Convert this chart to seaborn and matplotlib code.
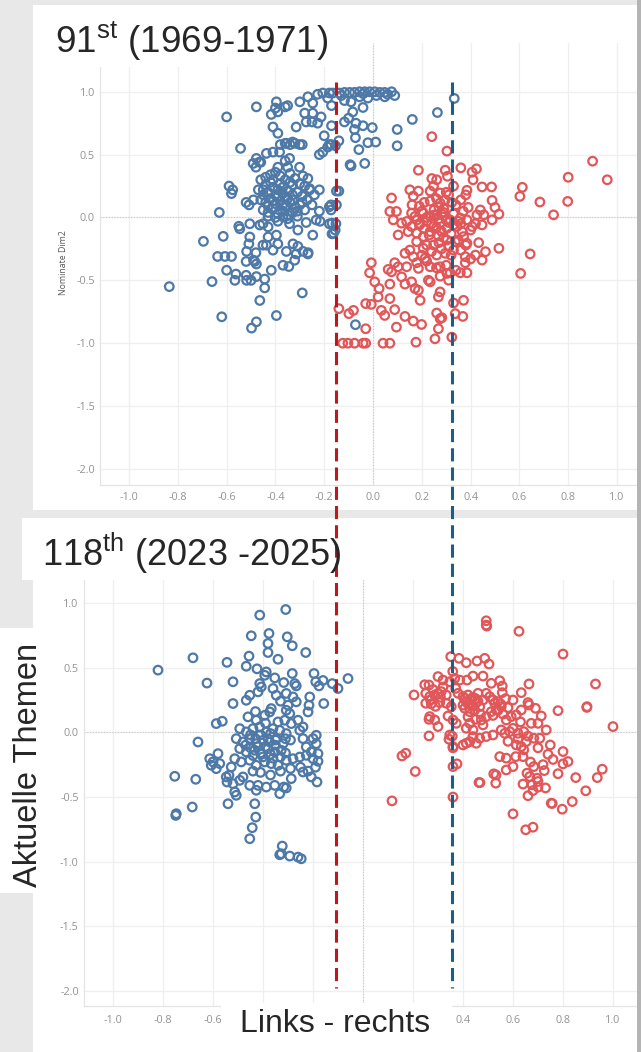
import matplotlib
matplotlib.use("Agg")
import matplotlib.pyplot as plt
from matplotlib.patches import Rectangle
from matplotlib.lines import Line2D
import pandas as pd
import seaborn as sns

# ---------------------------------------------------------------- data
# DW-NOMINATE scores (dim1 = left/right, dim2 = second dimension)
dem_91 = [
    (-0.835, -0.55), (-0.66, -0.51), (-0.695, -0.19), (-0.614, -0.15), (-0.63, 0.04), (-0.59, 0.25),
    (-0.575, 0.22), (-0.58, 0.19), (-0.637, -0.31), (-0.607, -0.31), (-0.58, -0.31), (-0.60, -0.42),
    (-0.562, -0.45), (-0.566, -0.50), (-0.62, -0.79), (-0.498, -0.88), (-0.478, -0.83), (-0.464, -0.66),
    (-0.396, -0.78), (-0.29, -0.60), (-0.444, -0.56), (-0.444, -0.49), (-0.52, -0.46), (-0.50, -0.50),
    (-0.518, -0.50), (-0.478, -0.47), (-0.417, -0.42), (-0.369, -0.38), (-0.345, -0.39), (-0.321, -0.34),
    (-0.315, -0.29), (-0.287, -0.27), (-0.267, -0.29), (-0.52, -0.35), (-0.485, -0.35), (-0.478, -0.37),
    (-0.49, -0.34), (-0.60, 0.80), (-0.478, 0.88), (-0.543, 0.55), (-0.518, -0.27), (-0.48, -0.28),
    (-0.451, -0.22), (-0.437, -0.22), (-0.41, -0.26), (-0.39, -0.21), (-0.355, -0.27), (-0.328, -0.21),
    (-0.308, -0.23), (-0.505, -0.155), (-0.509, -0.21), (-0.43, -0.155), (-0.396, -0.14), (-0.43, -0.075),
    (-0.464, -0.06), (-0.451, -0.05), (-0.40, 0.0), (-0.369, 0.005), (-0.342, -0.05), (-0.308, -0.10),
    (-0.274, -0.04), (-0.247, -0.14), (-0.233, -0.02), (-0.217, -0.03), (-0.179, -0.05), (-0.168, -0.13),
    (-0.179, 0.085), (-0.172, 0.06), (-0.55, -0.07), (-0.546, -0.09), (-0.505, -0.05),
    (-0.46, 0.30), (-0.44, 0.32), (-0.42, 0.34), (-0.40, 0.36), (-0.38, 0.33), (-0.36, 0.30), (-0.34, 0.28),
    (-0.32, 0.31), (-0.30, 0.27), (-0.28, 0.25), (-0.45, 0.22), (-0.43, 0.20), (-0.41, 0.24), (-0.39, 0.22),
    (-0.37, 0.19), (-0.35, 0.21), (-0.33, 0.18), (-0.31, 0.20), (-0.29, 0.17), (-0.27, 0.14), (-0.46, 0.14),
    (-0.44, 0.12), (-0.42, 0.15), (-0.40, 0.11), (-0.38, 0.13), (-0.36, 0.09), (-0.34, 0.12), (-0.32, 0.08),
    (-0.30, 0.10), (-0.28, 0.06), (-0.45, 0.06), (-0.43, 0.04), (-0.41, 0.07), (-0.39, 0.03), (-0.37, 0.05),
    (-0.35, 0.02), (-0.33, 0.04), (-0.31, 0.01), (-0.42, 0.28), (-0.38, 0.27), (-0.36, 0.16), (-0.40, 0.18),
    (-0.44, 0.26), (-0.34, 0.35), (-0.26, 0.22), (-0.24, 0.18), (-0.25, 0.10), (-0.22, 0.05), (-0.39, 0.40),
    (-0.35, 0.40), (-0.52, 0.12), (-0.508, 0.10), (-0.49, 0.14), (-0.47, 0.22), (-0.48, 0.40), (-0.466, 0.44),
    (-0.491, 0.43), (-0.478, 0.47), (-0.46, 0.44), (-0.437, 0.51), (-0.41, 0.52), (-0.383, 0.52), (-0.36, 0.45),
    (-0.342, 0.47), (-0.301, 0.40), (-0.287, 0.33), (-0.267, 0.31), (-0.26, 0.23), (-0.22, 0.22), (-0.15, 0.21),
    (-0.172, 0.58), (-0.186, 0.56), (-0.206, 0.52), (-0.22, 0.50), (-0.38, 0.58), (-0.36, 0.59), (-0.32, 0.59),
    (-0.30, 0.58), (-0.34, 0.58), (-0.315, 0.72), (-0.28, 0.83), (-0.247, 0.83), (-0.274, 0.76), (-0.25, 0.76),
    (-0.213, 0.80), (-0.227, 0.75), (-0.20, 0.65), (-0.179, 0.58), (-0.41, 0.72), (-0.39, 0.67), (-0.355, 0.59),
    (-0.33, 0.60), (-0.29, 0.58), (-0.396, 0.92), (-0.40, 0.87), (-0.417, 0.82), (-0.39, 0.84), (-0.36, 0.88),
    (-0.35, 0.89), (-0.30, 0.92), (-0.267, 0.96), (-0.247, 0.91), (-0.227, 0.98), (-0.206, 0.99), (-0.186, 0.95),
    (-0.179, 0.99), (-0.165, 0.99), (-0.138, 0.99), (-0.117, 0.995), (-0.096, 0.995), (-0.076, 0.995),
    (-0.055, 1.0), (-0.034, 1.0), (-0.014, 1.0), (0.007, 1.0), (0.028, 0.995), (0.048, 0.995), (0.076, 1.0),
    (0.089, 0.97), (-0.117, 0.93), (-0.09, 0.92), (-0.055, 0.96), (-0.021, 0.95), (0.014, 0.97), (0.048, 0.96),
    (-0.13, 0.97), (0.06, 0.98), (-0.04, 0.985), (0.333, 0.947), (0.264, 0.835), (0.161, 0.78), (0.099, 0.70),
    (0.099, 0.57), (-0.003, 0.715), (-0.041, 0.875), (-0.083, 0.84), (-0.10, 0.79), (-0.117, 0.76), (-0.07, 0.75),
    (-0.076, 0.70), (-0.041, 0.73), (-0.072, 0.635), (-0.021, 0.595), (0.011, 0.60), (-0.058, 0.54), (-0.14, 0.61),
    (-0.154, 0.57), (-0.094, 0.42), (-0.09, 0.41), (-0.034, 0.43), (-0.14, 0.21), (-0.172, 0.10), (-0.168, -0.045),
    (-0.162, -0.125), (-0.072, -0.853), (-0.17, 0.89), (-0.17, 0.73), (-0.15, 0.10), (-0.155, -0.10),
    (-0.152, -0.05), (-0.266, -0.28), (-0.43, 0.09), (-0.41, 0.13), (-0.37, 0.10), (-0.35, 0.15), (-0.39, 0.17),
    (-0.33, 0.14), (-0.45, 0.18), (-0.37, 0.24), (-0.33, 0.26), (-0.41, 0.30), (-0.43, 0.01), (-0.39, -0.03),
    (-0.35, -0.01), (-0.31, 0.05), (-0.29, 0.12),
]

rep_91 = [
    (0.241, 0.643), (0.303, 0.528), (0.186, 0.376), (0.296, 0.376), (0.305, 0.328), (0.36, 0.395), (0.406, 0.36),
    (0.424, 0.387), (0.41, 0.30), (0.241, 0.31), (0.261, 0.30), (0.248, 0.25), (0.33, 0.25), (0.385, 0.216),
    (0.447, 0.243), (0.486, 0.243), (0.151, 0.22), (0.186, 0.21), (0.165, 0.17), (0.234, 0.21), (0.275, 0.195),
    (0.31, 0.18), (0.076, 0.155), (0.19, 0.09), (0.234, 0.13), (0.275, 0.115), (0.296, 0.14), (0.323, 0.12),
    (0.488, 0.136), (0.50, 0.08), (0.516, 0.027), (0.069, 0.048), (0.096, 0.048), (0.158, 0.035), (0.172, 0.008),
    (0.206, 0.035), (0.234, 0.008), (0.261, 0.021), (0.289, 0.04), (0.316, -0.019), (0.358, -0.005),
    (0.385, -0.019), (0.426, 0.021), (0.454, 0.021), (0.488, -0.019), (0.447, -0.059), (0.406, -0.072),
    (0.083, -0.019), (0.117, -0.045), (0.138, -0.032), (0.158, -0.072), (0.193, -0.05), (0.22, -0.032),
    (0.248, -0.072), (0.275, -0.045), (0.303, -0.085), (0.344, -0.072), (0.103, -0.139), (0.144, -0.112),
    (0.179, -0.125), (0.206, -0.152), (0.234, -0.112), (0.268, -0.147), (0.303, -0.179), (0.365, -0.112),
    (0.371, -0.152), (0.337, -0.192), (0.385, -0.205), (0.433, -0.20), (0.461, -0.272), (0.516, -0.245),
    (0.42, -0.299), (0.378, -0.312), (0.33, -0.259), (0.296, -0.285), (0.248, -0.219), (0.206, -0.245),
    (0.179, -0.192), (0.151, -0.259), (0.131, -0.285), (0.165, -0.312), (0.213, -0.325), (0.261, -0.299),
    (0.234, -0.392), (0.447, -0.339), (0.644, -0.29), (-0.007, -0.36), (-0.014, -0.44), (0.062, -0.413),
    (0.076, -0.432), (0.089, -0.36), (0.103, -0.392), (0.138, -0.392), (0.179, -0.36), (0.186, -0.405),
    (0.22, -0.347), (0.275, -0.392), (0.303, -0.445), (0.316, -0.44), (0.358, -0.44), (0.385, -0.44),
    (0.605, -0.445), (0.378, -0.36), (0.007, -0.512), (0.069, -0.53), (0.117, -0.472), (0.131, -0.53),
    (0.158, -0.512), (0.172, -0.565), (0.186, -0.579), (0.227, -0.499), (0.234, -0.512), (0.275, -0.467),
    (0.31, -0.499), (0.275, -0.592), (0.025, -0.565), (0.021, -0.632), (0.069, -0.645), (0.193, -0.659),
    (0.268, -0.632), (0.33, -0.68), (0.371, -0.659), (-0.03, -0.685), (-0.007, -0.691), (-0.14, -0.725),
    (-0.099, -0.765), (-0.08, -0.739), (0.034, -0.739), (0.048, -0.779), (0.089, -0.733), (0.131, -0.787),
    (0.165, -0.824), (0.199, -0.851), (0.261, -0.76), (0.275, -0.805), (0.282, -0.797), (0.337, -0.765),
    (0.368, -0.787), (-0.03, -0.885), (0.096, -0.872), (0.268, -0.885), (0.323, -0.952), (0.254, -0.965),
    (0.176, -0.992), (-0.124, -1.0), (-0.103, -1.0), (-0.076, -1.0), (-0.041, -1.0), (-0.03, -1.0),
    (0.041, -1.0), (0.069, -1.0), (0.90, 0.448), (0.96, 0.30), (0.80, 0.32), (0.798, 0.128), (0.74, 0.021),
    (0.684, 0.123), (0.612, 0.24), (0.602, 0.168), (0.20, 0.05), (0.22, 0.0), (0.25, 0.06), (0.27, -0.01),
    (0.29, 0.07), (0.31, -0.04), (0.33, 0.03), (0.35, -0.03), (0.37, 0.05), (0.21, -0.09), (0.24, -0.05),
    (0.28, -0.11), (0.32, -0.13), (0.36, -0.05), (0.40, -0.10), (0.18, -0.02), (0.16, 0.10), (0.26, 0.15),
    (0.30, 0.20), (0.34, 0.10), (0.38, 0.18), (0.22, -0.22), (0.28, -0.25), (0.32, -0.30), (0.36, -0.26),
    (0.40, -0.33), (0.30, -0.38), (0.26, -0.40), (0.34, -0.42), (0.20, -0.30), (0.25, 0.02), (0.28, 0.03),
    (0.30, -0.02), (0.33, -0.06), (0.26, -0.08), (0.23, -0.14), (0.29, -0.16), (0.35, -0.18), (0.27, -0.20),
    (0.31, -0.23), (0.24, -0.27), (0.38, -0.22), (0.42, -0.05), (0.44, 0.06), (0.39, 0.08), (0.36, 0.14),
    (0.27, 0.08), (0.21, 0.12), (0.19, -0.06),
]

dem_118 = [
    (-0.82, 0.48), (-0.68, 0.575), (-0.544, 0.54), (-0.624, 0.38), (-0.52, 0.39), (-0.413, 0.905),
    (-0.309, 0.948), (-0.447, 0.745), (-0.376, 0.763), (-0.38, 0.686), (-0.38, 0.616), (-0.303, 0.737),
    (-0.283, 0.668), (-0.229, 0.616), (-0.34, 0.564), (-0.456, 0.588), (-0.467, 0.51), (-0.424, 0.49),
    (-0.387, 0.466), (-0.393, 0.44), (-0.283, 0.454), (-0.196, 0.454), (-0.16, 0.40), (-0.189, 0.39),
    (-0.176, 0.358), (-0.123, 0.376), (-0.10, 0.338), (-0.06, 0.415), (-0.353, 0.42), (-0.317, 0.384),
    (-0.273, 0.376), (-0.267, 0.358), (-0.36, 0.338), (-0.413, 0.376), (-0.42, 0.312), (-0.453, 0.286),
    (-0.467, 0.247), (-0.52, 0.222), (-0.407, 0.35), (-0.347, 0.286), (-0.307, 0.30), (-0.28, 0.273),
    (-0.267, 0.235), (-0.30, 0.209), (-0.213, 0.273), (-0.216, 0.209), (-0.22, 0.157), (-0.157, 0.222),
    (-0.587, 0.067), (-0.563, 0.085), (-0.66, -0.075), (-0.367, 0.183), (-0.373, 0.157), (-0.393, 0.131),
    (-0.427, 0.093), (-0.46, 0.119), (-0.307, 0.17), (-0.293, 0.144), (-0.26, 0.093), (-0.24, 0.041),
    (-0.253, 0.015), (-0.287, 0.067), (-0.313, 0.093), (-0.493, 0.028), (-0.467, 0.003), (-0.44, 0.028),
    (-0.413, 0.041), (-0.387, 0.003), (-0.36, 0.028), (-0.333, 0.015), (-0.307, -0.01), (-0.507, -0.049),
    (-0.48, -0.075), (-0.453, -0.049), (-0.427, -0.088), (-0.40, -0.062), (-0.373, -0.075), (-0.347, -0.049),
    (-0.32, -0.088), (-0.493, -0.126), (-0.467, -0.152), (-0.433, -0.139), (-0.407, -0.165), (-0.38, -0.126),
    (-0.353, -0.152), (-0.327, -0.139), (-0.513, -0.204), (-0.487, -0.229), (-0.453, -0.216), (-0.427, -0.255),
    (-0.393, -0.229), (-0.367, -0.242), (-0.34, -0.255), (-0.307, -0.216), (-0.28, -0.204), (-0.253, -0.191),
    (-0.227, -0.178), (-0.20, -0.204), (-0.18, -0.165), (-0.187, -0.088), (-0.20, -0.049), (-0.187, -0.023),
    (-0.24, -0.049), (-0.227, -0.113), (-0.207, -0.152), (-0.18, -0.224), (-0.24, -0.307), (-0.207, -0.345),
    (-0.184, -0.384), (-0.287, -0.358), (-0.317, -0.423), (-0.333, -0.474), (-0.307, -0.43), (-0.353, -0.41),
    (-0.387, -0.423), (-0.42, -0.41), (-0.427, -0.448), (-0.453, -0.41), (-0.48, -0.345), (-0.493, -0.371),
    (-0.52, -0.397), (-0.513, -0.461), (-0.507, -0.487), (-0.54, -0.552), (-0.544, -0.384), (-0.536, -0.332),
    (-0.527, -0.268), (-0.547, -0.345), (-0.573, -0.242), (-0.587, -0.281), (-0.607, -0.255), (-0.613, -0.204),
    (-0.58, -0.165), (-0.60, -0.229), (-0.433, -0.552), (-0.429, -0.655), (-0.443, -0.737), (-0.453, -0.822),
    (-0.323, -0.879), (-0.327, -0.938), (-0.293, -0.956), (-0.26, -0.964), (-0.247, -0.977), (-0.333, -0.946),
    (-0.683, -0.577), (-0.747, -0.629), (-0.749, -0.642), (-0.753, -0.34), (-0.669, -0.363),
    (-0.45, -0.02), (-0.42, -0.11), (-0.38, -0.05), (-0.35, -0.10), (-0.40, -0.19), (-0.44, -0.18),
    (-0.36, -0.20), (-0.31, -0.16), (-0.29, -0.06), (-0.47, -0.10), (-0.39, 0.07), (-0.34, 0.08),
    (-0.43, 0.16), (-0.33, 0.24), (-0.41, -0.31), (-0.37, -0.33), (-0.44, -0.30), (-0.33, -0.30),
    (-0.29, -0.28), (-0.25, -0.27), (-0.22, -0.30), (-0.19, -0.27), (-0.43, -0.05), (-0.41, -0.02),
    (-0.37, -0.01), (-0.35, -0.06), (-0.39, -0.11), (-0.41, -0.16), (-0.37, -0.17), (-0.33, -0.19),
    (-0.45, -0.12), (-0.31, -0.05),
]

rep_118 = [
    (0.493, 0.861), (0.493, 0.828), (0.495, 0.82), (0.624, 0.78), (0.80, 0.604), (0.93, 0.373), (1.0, 0.044),
    (0.896, 0.198), (0.895, 0.192), (0.78, 0.167), (0.664, 0.373), (0.351, 0.584), (0.384, 0.571),
    (0.413, 0.537), (0.456, 0.55), (0.487, 0.571), (0.504, 0.527), (0.204, 0.288), (0.156, -0.183),
    (0.171, -0.162), (0.209, -0.303), (0.116, -0.53), (0.36, -0.50), (0.36, -0.265), (0.376, -0.244),
    (0.264, -0.028), (0.464, -0.388), (0.531, -0.393), (0.523, -0.321), (0.60, -0.63), (0.651, -0.753),
    (0.68, -0.733), (0.753, -0.548), (0.757, -0.55), (0.797, -0.594), (0.837, -0.535), (0.891, -0.452),
    (0.937, -0.35), (0.957, -0.285), (0.851, -0.35), (0.80, -0.244), (0.82, -0.226), (0.80, -0.149),
    (0.749, -0.098), (0.725, -0.296), (0.70, -0.424), (0.676, -0.406), (0.667, -0.342), (0.696, -0.355),
    (0.656, -0.316), (0.683, -0.265), (0.64, -0.188), (0.611, -0.188), (0.573, -0.20), (0.547, -0.188),
    (0.60, -0.265), (0.573, -0.291), (0.733, 0.018), (0.713, 0.126), (0.69, 0.185), (0.664, 0.211),
    (0.633, 0.172), (0.613, 0.134), (0.593, 0.121), (0.573, 0.095), (0.553, 0.018), (0.567, -0.008),
    (0.587, 0.005), (0.62, -0.008), (0.643, 0.005), (0.673, 0.069), (0.70, 0.069), (0.707, -0.046),
    (0.683, -0.046), (0.653, -0.072), (0.633, -0.111), (0.643, -0.136), (0.613, -0.098), (0.247, 0.367),
    (0.264, 0.365), (0.30, 0.43), (0.32, 0.403), (0.347, 0.39), (0.367, 0.416), (0.387, 0.403), (0.416, 0.403),
    (0.44, 0.434), (0.48, 0.434), (0.513, 0.378), (0.547, 0.398), (0.557, 0.357), (0.557, 0.306), (0.60, 0.249),
    (0.633, 0.306), (0.66, 0.229), (0.251, 0.301), (0.267, 0.275), (0.287, 0.288), (0.313, 0.314),
    (0.333, 0.288), (0.371, 0.339), (0.38, 0.301), (0.251, 0.224), (0.273, 0.219), (0.307, 0.229),
    (0.333, 0.224), (0.353, 0.198), (0.267, 0.121), (0.287, 0.095), (0.30, 0.044), (0.34, 0.126), (0.36, 0.095),
    (0.373, 0.069), (0.264, 0.10), (0.347, -0.021), (0.344, -0.054), (0.36, -0.111), (0.40, -0.098),
    (0.413, -0.085), (0.427, -0.072), (0.40, 0.275), (0.42, 0.288), (0.44, 0.27), (0.46, 0.301), (0.413, 0.237),
    (0.433, 0.211), (0.453, 0.229), (0.48, 0.249), (0.407, 0.185), (0.427, 0.159), (0.447, 0.172),
    (0.467, 0.198), (0.493, 0.301), (0.507, 0.275), (0.527, 0.224), (0.54, 0.237), (0.553, 0.198),
    (0.533, 0.172), (0.513, 0.159), (0.493, 0.121), (0.473, 0.095), (0.427, 0.069), (0.413, 0.031),
    (0.44, 0.018), (0.467, -0.046), (0.493, -0.033), (0.52, -0.021), (0.453, -0.085), (0.44, -0.033),
    (0.48, 0.057), (0.70, -0.12), (0.74, -0.17), (0.76, -0.21), (0.72, -0.25), (0.67, -0.23), (0.78, -0.32),
    (0.70, -0.38), (0.68, -0.45), (0.73, -0.43), (0.64, -0.40), (0.66, -0.49), (0.468, -0.389), (0.532, -0.33),
    (0.359, 0.47), (0.357, -0.03), (0.36, -0.12), (0.41, 0.26), (0.43, 0.25), (0.45, 0.26), (0.42, 0.22),
    (0.44, 0.20), (0.46, 0.24), (0.40, 0.21), (0.52, 0.25), (0.55, 0.22), (0.57, 0.26), (0.54, 0.17),
    (0.56, 0.14), (0.58, 0.19), (0.52, 0.13), (0.28, 0.33), (0.30, 0.30), (0.32, 0.35), (0.27, 0.25),
    (0.29, 0.20), (0.31, 0.27), (0.42, 0.12), (0.45, 0.10), (0.47, 0.14), (0.63, 0.08), (0.60, 0.03),
    (0.66, -0.03), (0.62, -0.05), (0.58, -0.07),
]

party_colors = {"Demokraten": "#4e79a7", "Republikaner": "#e15759"}
x_ticks = [-1.0, -0.8, -0.6, -0.4, -0.2, 0.0, 0.2, 0.4, 0.6, 0.8, 1.0]
y_ticks = [1.0, 0.5, 0.0, -0.5, -1.0, -1.5, -2.0]
# x tick values whose labels sit under the "Links - rechts" caption in the lower panel
hidden_lower_ticks = [-0.4, -0.2, 0.0, 0.2]

# party reference lines (left/right position, in 118th-panel units)
ref_lines = [(-0.108, "#c2161b"), (0.356, "#1a5f87")]

title_91 = r"91$^{\mathrm{st}}$ (1969-1971)"
title_118 = r"118$^{\mathrm{th}}$ (2023 -2025)"
y_label_small = "Nominate Dim2"
y_label_big = "Aktuelle Themen"
x_label_big = "Links - rechts"

# ---------------------------------------------------------------- style
sns.set_theme(style="white")
plt.rcParams["font.family"] = ["Liberation Sans", "DejaVu Sans"]
plt.rcParams["mathtext.fontset"] = "custom"
plt.rcParams["mathtext.rm"] = "Liberation Sans"
plt.rcParams["mathtext.it"] = "Liberation Sans:italic"
plt.rcParams["mathtext.bf"] = "Liberation Sans:bold"

W, H = 641, 1052
fig = plt.figure(figsize=(W / 100, H / 100), dpi=100, facecolor="#e8e8e8")


def frac(x0, y0, x1, y1):
    """Pixel box (from the top-left corner) -> figure fraction rect."""
    return (x0 / W, 1 - y1 / H, (x1 - x0) / W, (y1 - y0) / H)


def panel_box(x0, y0, x1, y1, color="white", z=-1):
    l, b, w, h = frac(x0, y0, x1, y1)
    fig.add_artist(Rectangle((l, b), w, h, transform=fig.transFigure,
                             facecolor=color, edgecolor="none", zorder=z))


# card backgrounds
panel_box(33, 5, 637, 510)
panel_box(33, 518, 637, 1052)

ax1 = fig.add_axes(frac(100, 43, 637, 485))
ax2 = fig.add_axes(frac(84, 580, 637, 1006))


def draw_panel(ax, dem, rep, xlim, ylim, xpad, ypad, hide=()):
    df = pd.DataFrame(
        [(x, y, "Demokraten") for x, y in dem] + [(x, y, "Republikaner") for x, y in rep],
        columns=["dim1", "dim2", "party"],
    )
    sns.scatterplot(data=df, x="dim1", y="dim2", hue="party", palette=party_colors,
                    s=38, linewidth=1.6, legend=False, ax=ax, zorder=3)
    pts = ax.collections[-1]
    pts.set_edgecolors(pts.get_facecolors())
    pts.set_facecolors("none")

    ax.set_xlim(*xlim)
    ax.set_ylim(*ylim)
    ax.set_xticks(x_ticks)
    ax.set_xticklabels(["" if t in hide else f"{t:.1f}" for t in x_ticks])
    ax.set_yticks(y_ticks)
    ax.set_yticklabels([f"{t:.1f}" for t in y_ticks])
    ax.tick_params(axis="x", length=0, labelsize=7.8, labelcolor="#939393", pad=xpad)
    ax.tick_params(axis="y", length=0, labelsize=7.8, labelcolor="#939393", pad=ypad)
    for lab in ax.get_xticklabels() + ax.get_yticklabels():
        lab.set_fontfamily("Open Sans")
    ax.grid(True, color="#efefef", lw=0.9)
    ax.set_axisbelow(True)
    ax.axhline(0, color="#c6c6c6", lw=0.8, ls=(0, (1, 1.5)), zorder=1)
    ax.axvline(0, color="#c6c6c6", lw=0.8, ls=(0, (1, 1.5)), zorder=1)
    ax.set_xlabel("")
    ax.set_ylabel("")
    for side in ("top", "right"):
        ax.spines[side].set_visible(False)
    for side in ("left", "bottom"):
        ax.spines[side].set_color("#e4e4e4")
        ax.spines[side].set_linewidth(0.9)
    ax.set_facecolor("white")


draw_panel(ax1, dem_91, rep_91, (-1.119, 1.082), (-2.128, 1.388), xpad=5, ypad=3.6)
draw_panel(ax2, dem_118, rep_118, (-1.116, 1.096), (-2.114, 1.176), xpad=6.5, ypad=3.8,
           hide=hidden_lower_ticks)

# overlay boxes (title strips and large axis captions)
panel_box(33, 5, 350, 67, z=2)
panel_box(22, 518, 340, 580, z=2)
panel_box(0, 628, 46, 893, z=2)
panel_box(221, 1003, 452, 1052, z=2)
panel_box(637, 0, 641, 1052, color="#b4b4b4", z=2)

# reference lines running across both panels
inv = fig.transFigure.inverted()
y_top = inv.transform(ax1.transData.transform((0, 1.078)))[1]
y_bot = inv.transform(ax2.transData.transform((0, -1.975)))[1]
for xv, col in ref_lines:
    xf = inv.transform(ax2.transData.transform((xv, 0)))[0]
    fig.add_artist(Line2D([xf, xf], [y_top, y_bot], transform=fig.transFigure,
                          color=col, lw=2.2, ls=(0, (4.3, 2.0)), zorder=5))

# texts
fig.text(55 / W, 1 - 53 / H, title_91, fontsize=26.6, ha="left", va="baseline", zorder=6)
fig.text(42 / W, 1 - 566 / H, title_118, fontsize=26, ha="left", va="baseline", zorder=6)
fig.text(63 / W, 1 - 263 / H, y_label_small, rotation=90, fontsize=6.3, color="#555555",
         ha="center", va="center", family="Open Sans", zorder=6)
fig.text(29 / W, 1 - 765 / H, y_label_big, rotation=90, fontsize=23.5, ha="center",
         va="center", zorder=6)
fig.text(335 / W, 1 - 1032 / H, x_label_big, fontsize=23, ha="center", va="baseline", zorder=6)

fig.savefig("out.png", dpi=100, facecolor=fig.get_facecolor())
